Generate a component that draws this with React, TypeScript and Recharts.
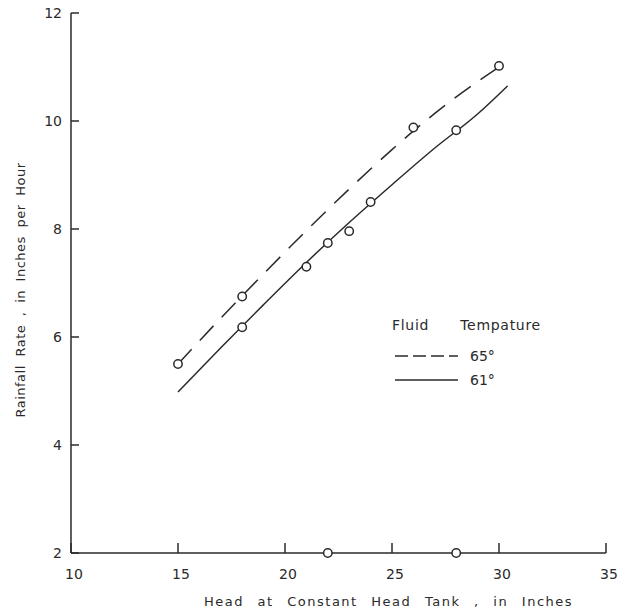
import React from 'react';
import { ComposedChart, XAxis, YAxis, Line, Scatter } from 'recharts';

// measured points
const head65 = [15, 18, 26, 30];
const rate65 = [5.5, 6.75, 9.88, 11.02];
const head61 = [18, 21, 22, 23, 24, 28];
const rate61 = [6.18, 7.3, 7.74, 7.96, 8.5, 9.83];
const headBase = [22, 28];
const rateBase = [2, 2];

// fitted curves
const curveHead65 = [15, 17, 19, 21, 23, 25, 27, 29, 30];
const curveRate65 = [5.5, 6.35, 7.17, 7.97, 8.74, 9.47, 10.14, 10.73, 11.0];
const curveHead61 = [15, 17, 19, 21, 23, 25, 27, 29, 30.4];
const curveRate61 = [4.98, 5.8, 6.6, 7.38, 8.12, 8.82, 9.5, 10.13, 10.65];

const xTicks = [10, 15, 20, 25, 30, 35];
const yTicks = [2, 4, 6, 8, 10, 12];

const legendTitle = 'Fluid Tempature';
const legendItems = ['65°', '61°'];

const zip = (xs: number[], ys: number[]) => xs.map((x, i) => ({ x, y: ys[i] }));

const ink = '#2a2a2a';
const font = '"DejaVu Sans", sans-serif';

const XTick = (props: any) => {
  const { x, y, payload } = props;
  return (
    <g>
      <line x1={x} x2={x} y1={y - 10} y2={y} stroke={ink} strokeWidth={1.5} />
      <text x={x + 3} y={y + 21} textAnchor="middle" dominantBaseline="central" fontFamily={font} fontSize={14} fill={ink}>
        {payload.value}
      </text>
    </g>
  );
};

const YTick = (props: any) => {
  const { x, y, payload } = props;
  return (
    <g>
      <line x1={x} x2={x + 8} y1={y} y2={y} stroke={ink} strokeWidth={1.5} />
      <text x={x - 9} y={y} textAnchor="end" dominantBaseline="central" fontFamily={font} fontSize={14} fill={ink}>
        {payload.value}
      </text>
    </g>
  );
};

const YTitle = (props: any) => {
  const vb = props.viewBox || {};
  const cy = (vb.y ?? 13) + (vb.height ?? 540) / 2 + 7;
  return (
    <text
      transform={`translate(20, ${cy}) rotate(-90)`}
      textAnchor="middle"
      dominantBaseline="central"
      fontFamily={font}
      fontSize={13}
      fill={ink}
      letterSpacing={0.5}
      wordSpacing={4}
    >
      Rainfall Rate , in Inches per Hour
    </text>
  );
};

// legend drawn as a plain overlay so the chart layout is not shrunk
const TempLegend = () => (
  <svg width={170} height={80} style={{ position: 'absolute', left: 390, top: 310 }}>
    <text x={2} y={15} dominantBaseline="central" fontFamily={font} fontSize={14} fill={ink} wordSpacing={26} letterSpacing={0.7}>
      {legendTitle}
    </text>
    <line x1={5} x2={68} y1={46} y2={46} stroke={ink} strokeWidth={1.5} strokeDasharray="13 5" />
    <text x={80} y={46} dominantBaseline="central" fontFamily={font} fontSize={14} fill={ink}>{legendItems[0]}</text>
    <line x1={5} x2={68} y1={70} y2={70} stroke={ink} strokeWidth={1.5} />
    <text x={80} y={70} dominantBaseline="central" fontFamily={font} fontSize={14} fill={ink}>{legendItems[1]}</text>
  </svg>
);

const Dot = (props: any) => {
  const { cx, cy } = props;
  return <circle cx={cx} cy={cy} r={4.2} fill="#fff" stroke={ink} strokeWidth={1.5} />;
};

export default function App() {
  return (
    <div style={{ position: 'absolute', left: 0, top: 0, width: 625, height: 614, background: '#fff' }}>
      <ComposedChart width={625} height={614} margin={{ top: 13, right: 19, bottom: 0, left: 0 }}>
        <XAxis
          type="number"
          dataKey="x"
          domain={[10, 35]}
          ticks={xTicks}
          height={61}
          tickSize={0}
          tickMargin={0}
          tickLine={false}
          axisLine={{ stroke: ink, strokeWidth: 1.5 }}
          tick={<XTick />}
          label={{
            value: 'Head at Constant Head Tank , in Inches',
            position: 'insideBottom',
            offset: 8,
            fontFamily: font,
            fontSize: 13,
            fill: ink,
            letterSpacing: 1.5,
            wordSpacing: 8,
            dx: 50,
          }}
        />
        <YAxis
          type="number"
          dataKey="y"
          domain={[2, 12]}
          ticks={yTicks}
          width={71}
          tickSize={0}
          tickMargin={0}
          tickLine={false}
          axisLine={{ stroke: ink, strokeWidth: 1.5 }}
          tick={<YTick />}
          label={<YTitle />}
        />
        <Line
          data={zip(curveHead65, curveRate65)}
          dataKey="y"
          type="monotone"
          stroke={ink}
          strokeWidth={1.5}
          strokeDasharray="20 12"
          dot={false}
          activeDot={false}
          isAnimationActive={false}
        />
        <Line
          data={zip(curveHead61, curveRate61)}
          dataKey="y"
          type="monotone"
          stroke={ink}
          strokeWidth={1.5}
          dot={false}
          activeDot={false}
          isAnimationActive={false}
        />
        <Scatter data={zip(head65, rate65)} shape={<Dot />} isAnimationActive={false} />
        <Scatter data={zip(head61, rate61)} shape={<Dot />} isAnimationActive={false} />
        <Scatter data={zip(headBase, rateBase)} shape={<Dot />} isAnimationActive={false} />
      </ComposedChart>
      <TempLegend />
    </div>
  );
}
